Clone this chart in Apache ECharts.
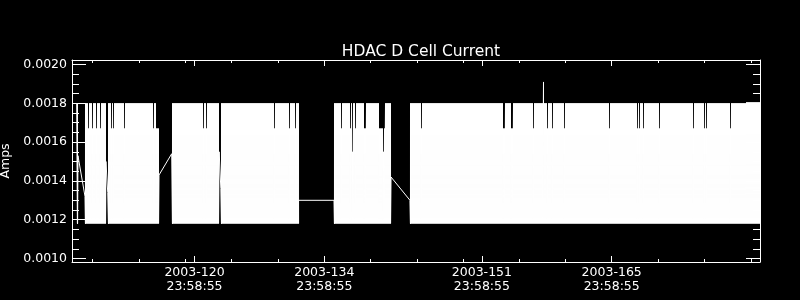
<!DOCTYPE html>
<html>
<head>
<meta charset="utf-8">
<script src="https://cdn.jsdelivr.net/npm/echarts@6/dist/echarts.min.js"></script>
<style>
html,body{margin:0;padding:0;background:#000;}
#chart{width:800px;height:300px;}
</style>
</head>
<body>
<div id="chart"></div>
<script>
// ---------- data ----------
// time axis: day of year 2003 (tick "2003-120 23:58:55" sits at 120)
const majorTickDays   = [120, 134, 151, 165];
const majorTickLabels = ['2003-120\n23:58:55', '2003-134\n23:58:55', '2003-151\n23:58:55', '2003-165\n23:58:55'];
const minorTickDays   = [109, 114, 119, 124, 129, 139, 144, 149, 155, 160, 170, 175, 180];
const ampTickValues   = [0.0010, 0.0012, 0.0014, 0.0016, 0.0018, 0.0020];
const ampMinorValues  = [0.00105, 0.00110, 0.00115, 0.00125, 0.00130, 0.00135, 0.00145, 0.00150, 0.00155,
                         0.00165, 0.00170, 0.00175, 0.00185, 0.00190, 0.00195];

// current toggles between these two levels inside each data stretch
const lowAmps  = 0.00118;
const highAmps = 0.00180;

// continuous data stretches (day of year) and their first / last readings
const segStartDay  = [107.29, 108.19, 110.64, 117.54, 122.84, 135.05, 143.24];
const segEndDay    = [107.43, 110.45, 116.17, 122.66, 131.22, 141.20, 181.20];
const segFirstAmps = [0.00180, 0.00132, 0.00134, 0.00154, 0.00136, 0.00130, 0.00130];
const segLastAmps  = [0.00153, 0.00150, 0.00143, 0.00155, 0.00130, 0.00142, 0.00180];

// single moments where the upper reading is lower than usual
const dipDay  = [108.60, 109.03, 109.43, 109.89, 111.05, 111.23, 112.48, 115.55, 121.00, 121.26,
                 128.66, 130.25, 130.89, 135.86, 136.86, 137.07, 137.37, 138.30, 138.48, 140.35,
                 144.52, 156.53, 158.11, 158.58, 159.94, 164.73, 167.82, 168.03, 168.46, 170.19,
                 173.79, 174.98, 175.26, 177.78];
const dipAmps = [0.00167, 0.00167, 0.00167, 0.00167, 0.00167, 0.00167, 0.00167, 0.00167, 0.00167, 0.00167,
                 0.00167, 0.00167, 0.00167, 0.00167, 0.00167, 0.00155, 0.00167, 0.00167, 0.00167, 0.00155,
                 0.00167, 0.00167, 0.00167, 0.00167, 0.00167, 0.00167, 0.00167, 0.00167, 0.00167, 0.00167,
                 0.00167, 0.00167, 0.00167, 0.00167];
// short stretches with a different upper reading
const rangeStartDay = [115.88, 139.90, 153.31, 154.14, 179.49];
const rangeEndDay   = [116.17, 140.55, 153.49, 154.32, 181.20];
const rangeAmps     = [0.00167, 0.00167, 0.00167, 0.00167, 0.001805];
// single spike
const spikeDay  = [157.68];
const spikeAmps = [0.00191];

// ---------- axis extents ----------
const xMin = 106.787, xMax = 180.996;
const yMin = 0.000982, yMax = 0.0020232;
const plotWidth = 688;

// ---------- build the line: each screen column holds one upper reading between two lower ones ----------
const colDays = (xMax - xMin) / plotWidth;   // days covered by one screen column
const half = 0.5 * colDays;
const eps = 0.05 * colDays;
function upperAt(d) {
  for (let i = 0; i < spikeDay.length; i++) if (Math.abs(d - spikeDay[i]) <= half) return spikeAmps[i];
  for (let i = 0; i < dipDay.length; i++) if (Math.abs(d - dipDay[i]) <= half) return dipAmps[i];
  for (let i = 0; i < rangeStartDay.length; i++) if (d >= rangeStartDay[i] && d <= rangeEndDay[i]) return rangeAmps[i];
  return highAmps;
}
const lineData = [];
for (let s = 0; s < segStartDay.length; s++) {
  lineData.push([segStartDay[s], segFirstAmps[s]]);
  const k0 = Math.ceil((segStartDay[s] - xMin) / colDays - 0.5);
  const k1 = Math.floor((segEndDay[s] - xMin) / colDays - 0.5);
  for (let k = k0; k <= k1; k++) {
    const d = xMin + (k + 0.5) * colDays;
    lineData.push([d - eps, lowAmps]);
    lineData.push([d, upperAt(d)]);
    lineData.push([d + eps, lowAmps]);
  }
  lineData.push([segEndDay[s], segLastAmps[s]]);
}

// ---------- chart ----------
const FONT = 'DejaVu Sans';
const WHITE = '#ffffff';
function xAxisDef(pos, vals, len, withLine, withLabels) {
  return {
    type: 'value', position: pos, min: xMin, max: xMax, gridIndex: 0,
    axisLine: { show: withLine, lineStyle: { color: WHITE, width: 1 } },
    axisTick: { show: true, inside: true, length: len, customValues: vals, lineStyle: { color: WHITE, width: 1 } },
    axisLabel: withLabels ? {
      show: true, customValues: majorTickDays, color: WHITE, fontFamily: FONT, fontSize: 12.5,
      lineHeight: 13.5, margin: 4, align: 'center',
      formatter: function (v) {
        for (let i = 0; i < majorTickDays.length; i++) if (Math.abs(v - majorTickDays[i]) < 1e-6) return majorTickLabels[i];
        return '';
      }
    } : { show: false },
    splitLine: { show: false }
  };
}
function yAxisDef(pos, vals, len, withLine, withLabels) {
  const ax = {
    type: 'value', position: pos, min: yMin, max: yMax, gridIndex: 0,
    axisLine: { show: withLine, lineStyle: { color: WHITE, width: 1 } },
    axisTick: { show: true, inside: true, length: len, customValues: vals, lineStyle: { color: WHITE, width: 1 } },
    axisLabel: withLabels ? {
      show: true, customValues: ampTickValues, color: WHITE, fontFamily: FONT, fontSize: 12.5, margin: 5,
      formatter: function (v) { return v.toFixed(4); }
    } : { show: false },
    splitLine: { show: false }
  };
  if (withLabels) {
    ax.name = 'Amps';
    ax.nameLocation = 'middle';
    ax.nameGap = 58;
    ax.nameTextStyle = { color: WHITE, fontFamily: FONT, fontSize: 12.5 };
  }
  return ax;
}

const chart = echarts.init(document.getElementById('chart'), null, { renderer: 'canvas' });
chart.setOption({
  backgroundColor: '#000000',
  animation: false,
  title: {
    text: 'HDAC D Cell Current', left: 416, top: 39, textAlign: 'center',
    textStyle: { color: WHITE, fontFamily: FONT, fontSize: 15.5, fontWeight: 'normal' }
  },
  grid: { left: 72, right: 40, top: 60, bottom: 38, containLabel: false, outerBoundsMode: 'none' },
  xAxis: [
    xAxisDef('bottom', majorTickDays, 6, true, true),
    xAxisDef('bottom', minorTickDays, 3, false, false),
    xAxisDef('top', majorTickDays, 6, true, false),
    xAxisDef('top', minorTickDays, 3, false, false)
  ],
  yAxis: [
    yAxisDef('left', ampTickValues, 14, true, true),
    yAxisDef('left', ampMinorValues, 7, false, false),
    yAxisDef('right', ampTickValues, 14, true, false),
    yAxisDef('right', ampMinorValues, 7, false, false)
  ],
  series: [{
    type: 'line', xAxisIndex: 0, yAxisIndex: 0, data: lineData,
    symbol: 'none', showSymbol: false, silent: true, clip: true,
    progressive: 0, sampling: null,
    lineStyle: { color: WHITE, width: 1 }
  }]
});
</script>
</body>
</html>
